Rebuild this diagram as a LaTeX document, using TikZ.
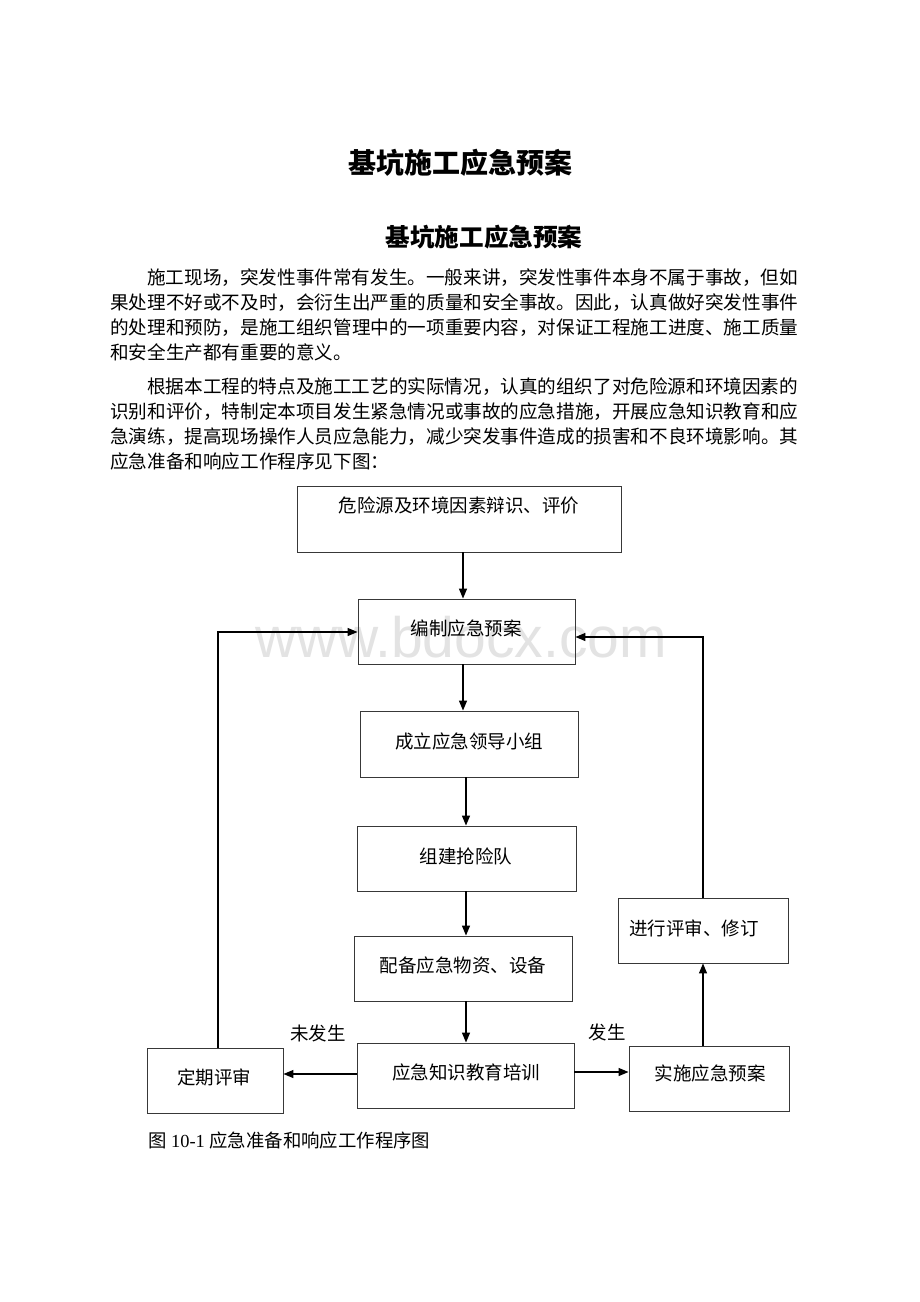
\documentclass[tikz,border=0pt]{standalone}
\usepackage{fontspec}
\setmainfont{Liberation Serif}
\newfontfamily\cjk{Noto Sans CJK SC}
\newfontfamily\wmfont{Liberation Sans}
\usetikzlibrary{arrows.meta}
\begin{document}
\begin{tikzpicture}[x=1pt,y=-1pt,
  body/.style={inner sep=0pt, anchor=west, yshift=-4pt, text height=0.84em, text depth=0.12em, font=\cjk\fontsize{18.6}{22}\selectfont},
  btext/.style={inner sep=0pt, yshift=-4pt, text height=0.84em, text depth=0.12em, font=\cjk\fontsize{18.5}{22}\selectfont},
  box/.style={draw=black!78, line width=0.9pt, inner sep=0pt},
  arr/.style={-{Triangle[length=10pt,width=8pt]}, line width=1.3pt, black},
  ttl/.style={inner sep=0pt, yshift=-5pt, text height=0.84em, text depth=0.12em}
]
\useasboundingbox[fill=white] (0,0) rectangle (920,1302);

% watermark
\node[inner sep=0pt, text=black!11, font=\wmfont\fontsize{57}{60}\selectfont] (wm) at (461,637) {www.bdocx.com};

% titles
\node[ttl, font=\cjk\bfseries\fontsize{28}{32}\selectfont] (t1) at (460,165) {基坑施工应急预案};
\node[ttl, font=\cjk\bfseries\fontsize{24.6}{28}\selectfont] (t2) at (484,238) {基坑施工应急预案};

% paragraph 1
\node[body] (p1a) at (147,277) {施工现场，突发性事件常有发生。一般来讲，突发性事件本身不属于事故，但如};
\node[body] (p1b) at (110,302) {果处理不好或不及时，会衍生出严重的质量和安全事故。因此，认真做好突发性事件};
\node[body] (p1c) at (110,327) {的处理和预防，是施工组织管理中的一项重要内容，对保证工程施工进度、施工质量};
\node[body] (p1d) at (110,352) {和安全生产都有重要的意义。};

% paragraph 2
\node[body] (p2a) at (147,386) {根据本工程的特点及施工工艺的实际情况，认真的组织了对危险源和环境因素的};
\node[body] (p2b) at (110,411) {识别和评价，特制定本项目发生紧急情况或事故的应急措施，开展应急知识教育和应};
\node[body] (p2c) at (110,436) {急演练，提高现场操作人员应急能力，减少突发事件造成的损害和不良环境影响。其};
\node[body] (p2d) at (110,461) {应急准备和响应工作程序见下图：};

% boxes
\node[box, minimum width=324pt, minimum height=66pt] (A) at (459,519) {};
\node[btext] (At) at (459,505) {危险源及环境因素辩识、评价};
\node[box, minimum width=217pt, minimum height=65pt] (B) at (466.5,631.5) {};
\node[btext] (Bt) at (466,628) {编制应急预案};
\node[box, minimum width=218pt, minimum height=66pt] (C) at (469,744) {};
\node[btext] (Ct) at (469,741) {成立应急领导小组};
\node[box, minimum width=219pt, minimum height=65pt] (D) at (466.5,858.5) {};
\node[btext] (Dt) at (466,856) {组建抢险队};
\node[box, minimum width=218pt, minimum height=65pt] (E) at (463,968.5) {};
\node[btext] (Et) at (463,965) {配备应急物资、设备};
\node[box, minimum width=217pt, minimum height=65pt] (F) at (465.5,1075.5) {};
\node[btext] (Ft) at (466,1072) {应急知识教育培训};
\node[box, minimum width=136pt, minimum height=65pt] (G) at (215,1080.5) {};
\node[btext] (Gt) at (214,1077) {定期评审};
\node[box, minimum width=160pt, minimum height=65pt] (H) at (709,1078.5) {};
\node[btext] (Ht) at (710,1073) {实施应急预案};
\node[box, minimum width=170pt, minimum height=65pt] (I) at (703,930.5) {};
\node[btext] (It) at (694,928) {进行评审、修订};

% labels
\node[btext] (l1) at (318,1033) {未发生};
\node[btext] (l2) at (607,1032) {发生};

% connectors
\coordinate (ax) at (463,0);
\coordinate (dx) at (466,0);
\draw[arr] (A.south -| ax) -- (B.north -| ax);
\draw[arr] (B.south -| ax) -- (C.north -| ax);
\draw[arr] (C.south -| dx) -- (D.north -| dx);
\draw[arr] (D.south -| dx) -- (E.north -| dx);
\draw[arr] (E.south -| dx) -- (F.north -| dx);
\coordinate (fy) at (0,1074);
\draw[arr] (F.west |- fy) -- (G.east |- fy);
\coordinate (hy) at (0,1072);
\draw[arr] (F.east |- hy) -- (H.west |- hy);
\draw[arr] (I.south |- H.north) -- (I.south);
\coordinate (rc) at (703,637);
\draw[arr] (I.north) |- (B.east |- rc);
\coordinate (lc) at (218,632);
\draw[arr] (G.north -| lc) |- (B.west |- lc);

% caption
\node[inner sep=0pt, anchor=west, yshift=-4pt, text height=0.84em, text depth=0.12em, font=\fontsize{18.4}{22}\selectfont] (cap) at (148,1140) {{\cjk 图}~10-1~{\cjk 应急准备和响应工作程序图}};
\end{tikzpicture}
\end{document}
